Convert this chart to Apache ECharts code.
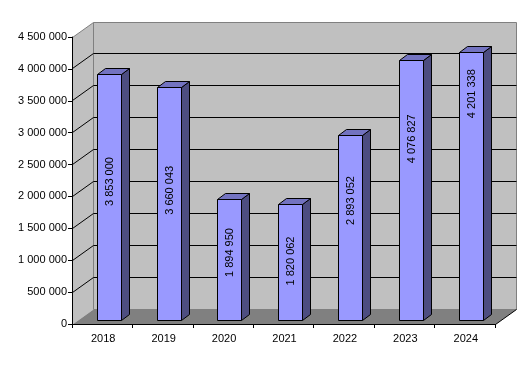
<!DOCTYPE html>
<html><head><meta charset="utf-8">
<script src="https://cdn.jsdelivr.net/npm/echarts@6/dist/echarts.min.js"></script>
<style>html,body{margin:0;padding:0;background:#fff}#c{width:532px;height:371px}</style>
</head><body><div id="c"></div>
<script>
const years = ['2018','2019','2020','2021','2022','2023','2024'];
const values = [3853000,3660043,1894950,1820062,2893052,4076827,4201338];
// height on the value axis at which each rotated label sits
const labelAt = [2234000,2096000,1121000,988000,1936000,2904000,3611000];
const ticks = [0,500000,1000000,1500000,2000000,2500000,3000000,3500000,4000000,4500000];
const FONT = '"Liberation Sans", Arial, sans-serif';
const fmt = v => String(v).replace(/\B(?=(\d{3})+(?!\d))/g,' ');
const DX = 21, DY = -15;
const chart = echarts.init(document.getElementById('c'),null,{renderer:'canvas'});
function poly(points, fill, stroke, w){
  return {type:'polygon',shape:{points},style:{fill,stroke:stroke||null,lineWidth:w||0}};
}
function line(x1,y1,x2,y2,color){
  return {type:'line',shape:{x1,y1,x2,y2},style:{stroke:color,lineWidth:1}};
}
function renderFrame(params, api){
  const cs = params.coordSys;
  const v = api.value(1);
  const y = api.coord([0,v])[1];
  const L = cs.x+.5, R = cs.x+cs.width+.5, T = cs.y+.5, B = cs.y+cs.height+.5;
  const ch = [];
  if(params.dataIndex===0){
    ch.push(poly([[L,T],[L+DX,T+DY],[L+DX,B+DY],[L,B]],'#C0C0C0'));
    ch.push(poly([[L+DX,T+DY],[R+DX,T+DY],[R+DX,B+DY],[L+DX,B+DY]],'#C0C0C0','#808080',1));
    ch.push(poly([[L,B],[L+DX,B+DY],[R+DX,B+DY],[R,B]],'#808080'));
    ch.push(line(L,T,L+DX,T+DY,'#808080'));
    ch.push(line(R,B,R+DX,B+DY,'#000'));
  } else if(v<4500000){
    const py = Math.floor(y)+.5;
    ch.push(line(L,py,L+DX,py+DY,'#000'));
    ch.push(line(L+DX,py+DY,R+DX,py+DY,'#000'));
  }
  return {type:'group',children:ch};
}
function renderBar(params, api){
  const v = api.value(1);
  const cat = api.value(0);
  const w = api.size([1,0])[0]*0.4;
  const top = api.coord([cat,v]);
  const base = api.coord([cat,0]);
  const lab = api.coord([cat,api.value(2)]);
  const x0 = Math.floor(top[0]+6.9-w/2)+.5, x1 = x0+24;
  const yT = Math.floor(top[1]-3.5)+.5, yB = Math.floor(base[1]-3.5)+.5;
  const dx = 8, dy = -6;
  const st = {stroke:'#000',lineWidth:1};
  return {type:'group',children:[
    {type:'polygon',shape:{points:[[x1,yT],[x1+dx,yT+dy],[x1+dx,yB+dy],[x1,yB]]},style:{fill:'#4D4D80',...st}},
    {type:'polygon',shape:{points:[[x0,yT],[x0+dx,yT+dy],[x1+dx,yT+dy],[x1,yT]]},style:{fill:'#7373C0',...st}},
    {type:'rect',shape:{x:x0,y:yT,width:24,height:yB-yT},style:{fill:'#9999FF',...st}},
    {type:'text',x:(x0+x1)/2,y:lab[1],rotation:Math.PI/2,
     style:{text:fmt(v),fontSize:11,fontFamily:FONT,fill:'#000',align:'center',verticalAlign:'middle'}}
  ]};
}
chart.setOption({
  animation:false,
  backgroundColor:'#fff',
  grid:{left:72,top:37,width:423,height:287,containLabel:false},
  xAxis:{type:'category',data:years,boundaryGap:true,z:5,
    axisLine:{show:true,lineStyle:{color:'#000',width:1}},
    axisTick:{show:true,alignWithLabel:false,length:4,lineStyle:{color:'#000'}},
    axisLabel:{show:true,margin:9,fontSize:11,fontFamily:FONT,color:'#000',interval:0,padding:[0,0,0,2]},
    splitLine:{show:false}},
  yAxis:{type:'value',min:0,max:4500000,interval:500000,z:5,
    axisLine:{show:true,lineStyle:{color:'#000',width:1}},
    axisTick:{show:true,length:4,lineStyle:{color:'#000'}},
    axisLabel:{show:true,margin:5,fontSize:11,fontFamily:FONT,color:'#000',padding:[2,0,0,0],formatter:v=>fmt(v)},
    splitLine:{show:false}},
  series:[
    {type:'custom',renderItem:renderFrame,z:1,silent:true,clip:false,
     data:ticks.map(t=>[0,t]),encode:{x:0,y:1}},
    {type:'custom',renderItem:renderBar,z:2,silent:true,clip:false,
     data:values.map((v,i)=>[i,v,labelAt[i]]),encode:{x:0,y:1}}
  ]
});
</script></body></html>
